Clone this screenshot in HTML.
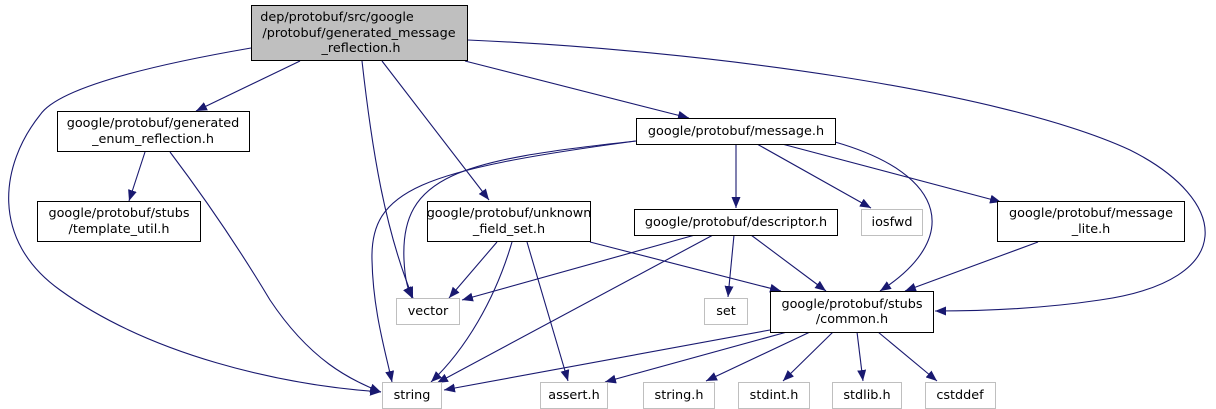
<!DOCTYPE html>
<html><head><meta charset="utf-8"><style>
html,body{margin:0;padding:0;background:#fff;width:1216px;height:409px;overflow:hidden}
text{font-family:"DejaVu Sans","Liberation Sans",sans-serif;font-size:12.8px;fill:#000}
</style></head><body>
<svg width="1216" height="409" viewBox="0 0 1216 409" xmlns="http://www.w3.org/2000/svg">
<defs>
<marker id="a" markerUnits="userSpaceOnUse" markerWidth="12" markerHeight="10" refX="11" refY="4.5" orient="auto">
<path d="M0,0 L11,4.5 L0,9 Z" fill="#191970"/>
</marker>
</defs>
<g fill="none" stroke="#191970" stroke-width="1.1" marker-end="url(#a)">
<path d="M251,48 C170,62 60,85 40,115 C0,165 -10,240 60,290 C150,355 280,385 381,392"/>
<path d="M300,61 L196,111"/>
<path d="M362,61 C372,150 385,230 413,298"/>
<path d="M382,61 L489,200"/>
<path d="M465,61 L689,118"/>
<path d="M468,40 C700,50 1000,90 1130,150 C1230,200 1240,280 1100,300 C1040,309 980,311 935,311"/>
<path d="M145,152 L129,201"/>
<path d="M170,152 C210,205 240,250 270,300 C310,360 350,380 381,392"/>
<path d="M636,141 C460,160 400,175 404,260 C405,280 408,290 412,298"/>
<path d="M636,141 C420,170 370,190 372,260 C373,310 385,350 392,382"/>
<path d="M736,144 L736,208"/>
<path d="M757,144 L871,208"/>
<path d="M782,144 L1001,202"/>
<path d="M835,142 C950,175 960,240 880,291"/>
<path d="M497,242 L449,298"/>
<path d="M512,242 C495,300 465,350 431,382"/>
<path d="M527,242 L568,381"/>
<path d="M590,242 L781,291"/>
<path d="M695,235 L462,300"/>
<path d="M713,235 L437,383"/>
<path d="M734,235 L728,297"/>
<path d="M751,235 L826,291"/>
<path d="M1038,242 L905,291"/>
<path d="M770,330 L444,390"/>
<path d="M787,332 L605,382"/>
<path d="M810,332 L706,381"/>
<path d="M833,332 L783,381"/>
<path d="M857,332 L863,381"/>
<path d="M878,332 L937,381"/>
</g>
<g stroke-width="1">
<rect x="251.5" y="5.5" width="216" height="55" fill="#bfbfbf" stroke="#000"/>
<rect x="57.5" y="111.5" width="192" height="40" fill="#fff" stroke="#000"/>
<rect x="37.5" y="201.5" width="163" height="40" fill="#fff" stroke="#000"/>
<rect x="427.5" y="201.5" width="163" height="40" fill="#fff" stroke="#000"/>
<rect x="636.5" y="118.5" width="199" height="26" fill="#fff" stroke="#000"/>
<rect x="634.5" y="209.5" width="203" height="26" fill="#fff" stroke="#000"/>
<rect x="861.5" y="209.5" width="61" height="26" fill="#fff" stroke="#bfbfbf"/>
<rect x="997.5" y="201.5" width="187" height="40" fill="#fff" stroke="#000"/>
<rect x="396.5" y="298.5" width="63" height="26" fill="#fff" stroke="#bfbfbf"/>
<rect x="704.5" y="298.5" width="43" height="26" fill="#fff" stroke="#bfbfbf"/>
<rect x="770.5" y="291.5" width="163" height="41" fill="#fff" stroke="#000"/>
<rect x="382.5" y="382.5" width="59" height="26" fill="#fff" stroke="#bfbfbf"/>
<rect x="540.5" y="382.5" width="67" height="26" fill="#fff" stroke="#bfbfbf"/>
<rect x="643.5" y="382.5" width="71" height="26" fill="#fff" stroke="#bfbfbf"/>
<rect x="738.5" y="382.5" width="71" height="26" fill="#fff" stroke="#bfbfbf"/>
<rect x="832.5" y="382.5" width="69" height="26" fill="#fff" stroke="#bfbfbf"/>
<rect x="925.5" y="382.5" width="70" height="26" fill="#fff" stroke="#bfbfbf"/>
</g>
<g text-anchor="middle">
<text x="337" y="21">dep/protobuf/src/google</text>
<text x="359" y="37">/protobuf/generated_message</text>
<text x="361" y="52">_reflection.h</text>
<text x="153" y="127">google/protobuf/generated</text>
<text x="153" y="143">_enum_reflection.h</text>
<text x="119" y="217">google/protobuf/stubs</text>
<text x="119" y="233">/template_util.h</text>
<text x="509" y="217">google/protobuf/unknown</text>
<text x="509" y="233">_field_set.h</text>
<text x="736" y="135">google/protobuf/message.h</text>
<text x="736" y="226">google/protobuf/descriptor.h</text>
<text x="892" y="226">iosfwd</text>
<text x="1091" y="217">google/protobuf/message</text>
<text x="1091" y="233">_lite.h</text>
<text x="428" y="315">vector</text>
<text x="726" y="315">set</text>
<text x="852" y="308">google/protobuf/stubs</text>
<text x="852" y="323">/common.h</text>
<text x="412" y="399">string</text>
<text x="574" y="399">assert.h</text>
<text x="679" y="399">string.h</text>
<text x="774" y="399">stdint.h</text>
<text x="867" y="399">stdlib.h</text>
<text x="960" y="399">cstddef</text>
</g>
</svg>
</body></html>
